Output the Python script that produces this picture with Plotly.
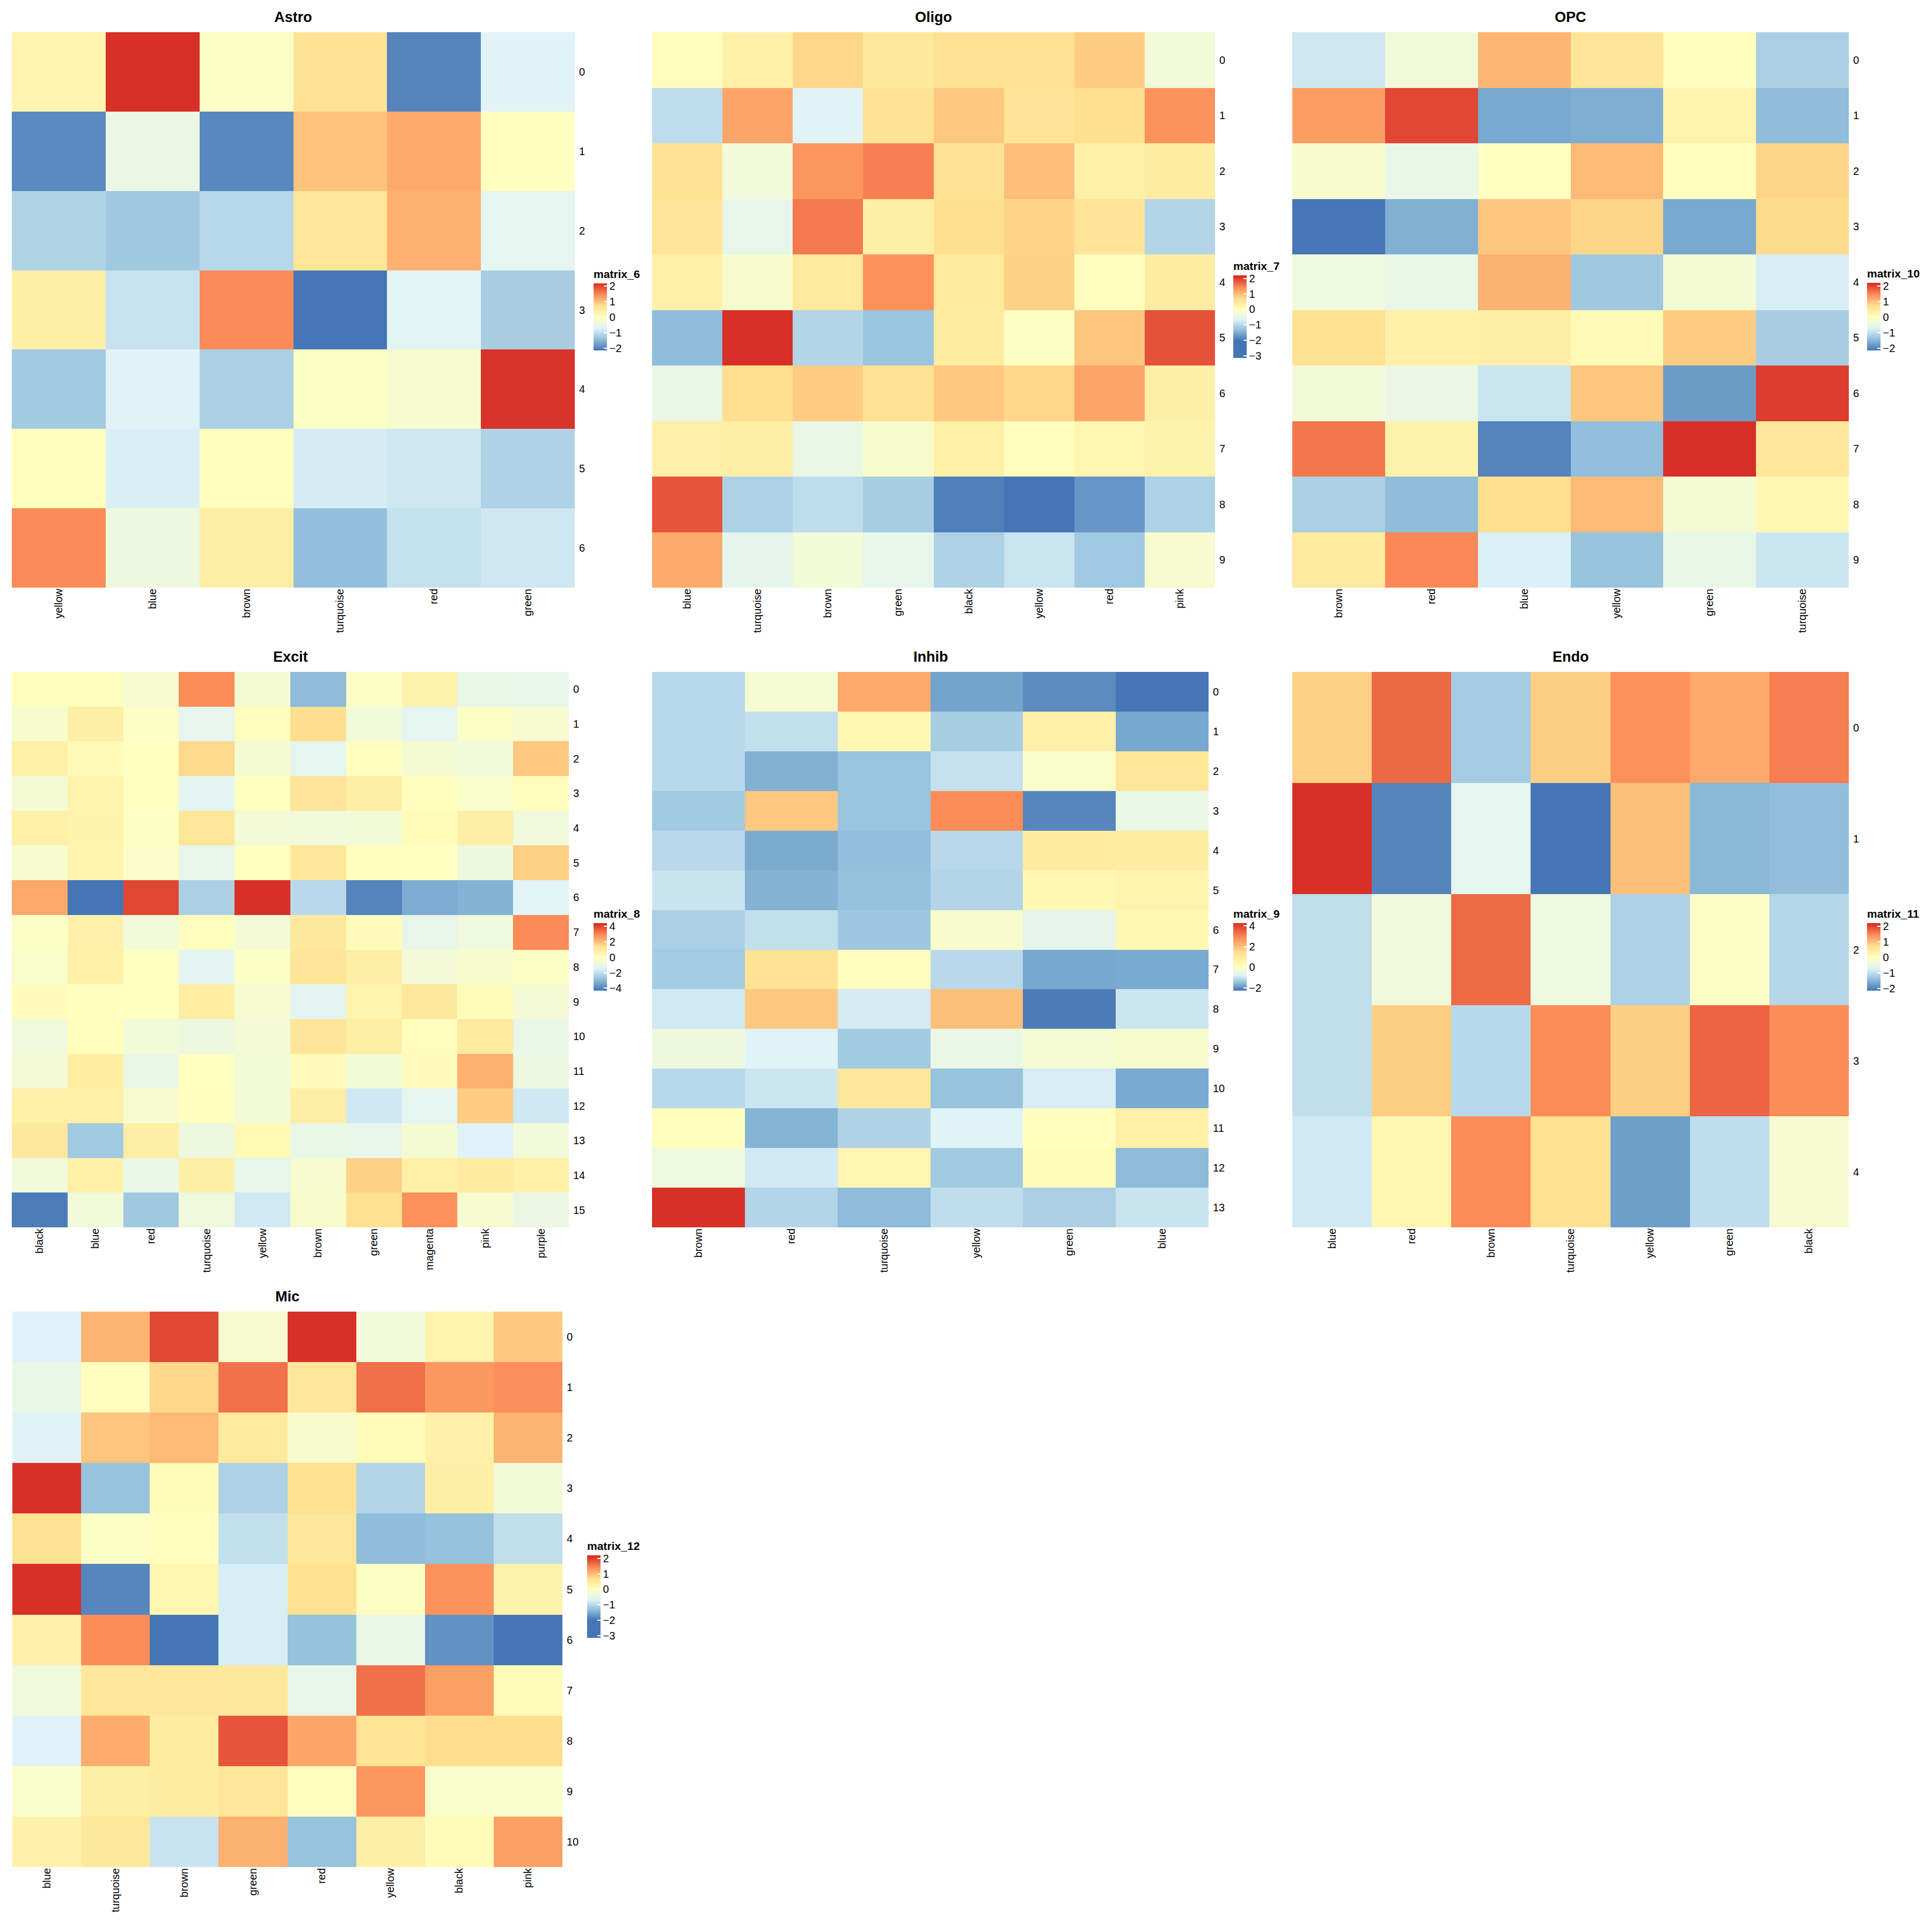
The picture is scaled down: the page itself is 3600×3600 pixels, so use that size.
import plotly.graph_objects as go

# row/column labels and values, one block per cell type
astro_genes = ['yellow', 'blue', 'brown', 'turquoise', 'red', 'green']
astro_values = [
    [0.25, 2.15, -0.08, 0.65, -2.0, -0.7],
    [-1.95, -0.45, -1.97, 0.97, 1.17, -0.03],
    [-1.15, -1.3, -1.1, 0.58, 1.13, -0.6],
    [0.37, -0.95, 1.45, -2.14, -0.66, -1.22],
    [-1.28, -0.7, -1.2, -0.08, -0.2, 2.12],
    [0.03, -0.78, 0.02, -0.82, -0.88, -1.17],
    [1.45, -0.42, 0.4, -1.42, -0.97, -0.88],
]

oligo_genes = ['blue', 'turquoise', 'brown', 'green', 'black', 'yellow', 'red', 'pink']
oligo_values = [
    [0.05, 0.35, 0.78, 0.52, 0.65, 0.66, 0.87, -0.3],
    [-0.95, 1.2, -0.65, 0.63, 0.9, 0.6, 0.7, 1.35],
    [0.66, -0.3, 1.33, 1.5, 0.66, 0.99, 0.35, 0.42],
    [0.58, -0.5, 1.55, 0.37, 0.7, 0.8, 0.6, -1.05],
    [0.35, -0.15, 0.5, 1.37, 0.5, 0.83, 0.03, 0.42],
    [-1.35, 2.1, -1.05, -1.25, 0.42, -0.05, 0.92, 1.85],
    [-0.45, 0.7, 0.87, 0.65, 0.9, 0.78, 1.2, 0.37],
    [0.33, 0.37, -0.45, -0.15, 0.35, 0.03, 0.22, 0.28],
    [1.82, -1.1, -0.95, -1.15, -1.9, -2.3, -1.7, -1.1],
    [1.15, -0.55, -0.27, -0.5, -1.1, -0.85, -1.2, -0.2],
]

opc_genes = ['brown', 'red', 'blue', 'yellow', 'green', 'turquoise']
opc_values = [
    [-0.88, -0.33, 1.09, 0.6, 0.03, -1.2],
    [1.29, 1.97, -1.65, -1.6, 0.27, -1.45],
    [-0.18, -0.52, -0.02, 1.05, 0.02, 0.8],
    [-2.14, -1.58, 0.94, 0.8, -1.65, 0.75],
    [-0.38, -0.52, 1.11, -1.3, -0.25, -0.8],
    [0.7, 0.35, 0.38, 0.12, 0.9, -1.22],
    [-0.3, -0.47, -0.92, 0.94, -1.78, 2.05],
    [1.6, 0.3, -2.0, -1.42, 2.15, 0.55],
    [-1.2, -1.45, 0.72, 1.05, -0.25, 0.18],
    [0.5, 1.47, -0.75, -1.38, -0.5, -0.9],
]

excit_genes = ['black', 'blue', 'red', 'turquoise', 'yellow', 'brown', 'green', 'magenta', 'pink', 'purple']
excit_values = [
    [0.05, 0.07, -0.4, 2.87, -0.45, -2.95, -0.1, 0.6, -1.0, -1.05],
    [-0.35, 0.75, -0.15, -1.15, 0.1, 1.45, -0.65, -1.2, -0.2, -0.4],
    [0.7, 0.25, -0.05, 1.55, -0.45, -1.2, 0.1, -0.45, -0.65, 1.85],
    [-0.5, 0.55, -0.05, -1.25, 0.0, 1.2, 0.8, 0.03, -0.3, 0.1],
    [0.7, 0.6, -0.1, 1.15, -0.55, -0.65, -0.6, 0.15, 0.75, -0.7],
    [-0.4, 0.55, -0.25, -1.05, -0.02, 1.15, 0.05, -0.05, -0.8, 1.72],
    [2.4, -4.3, 3.95, -2.4, 4.3, -2.15, -4.0, -3.25, -3.1, -1.35],
    [-0.15, 0.65, -0.65, 0.1, -0.55, 1.05, 0.12, -1.05, -0.75, 2.9],
    [-0.3, 0.7, -0.02, -1.3, -0.1, 1.2, 0.8, -0.55, -0.35, -0.1],
    [0.12, 0.05, -0.02, 0.85, -0.4, -1.25, 0.55, 1.05, 0.2, -0.55],
    [-0.7, 0.1, -0.65, -0.85, -0.55, 1.2, 0.8, 0.08, 0.95, -1.0],
    [-0.55, 0.85, -0.95, 0.0, -0.6, 0.12, -0.6, 0.12, 2.26, -0.85],
    [0.7, 0.7, -0.4, 0.03, -0.6, 0.8, -1.75, -1.2, 1.77, -1.75],
    [1.05, -2.55, 0.8, -0.8, 0.3, -1.0, -1.05, -0.45, -1.45, -0.65],
    [-0.65, 0.7, -1.0, 0.75, -1.05, -0.4, 1.7, 0.7, 0.95, 0.7],
    [-4.15, -0.65, -2.6, -0.7, -1.7, -0.35, 1.4, 2.8, -0.4, -0.9],
]

inhib_genes = ['brown', 'red', 'turquoise', 'yellow', 'green', 'blue']
inhib_values = [
    [-1.14, -0.25, 2.35, -1.8, -2.05, -2.27],
    [-1.14, -1.05, 0.35, -1.3, 0.7, -1.75],
    [-1.14, -1.67, -1.44, -1.02, -0.15, 1.15],
    [-1.36, 1.82, -1.44, 2.85, -2.1, -0.5],
    [-1.13, -1.72, -1.5, -1.13, 0.9, 0.85],
    [-0.98, -1.65, -1.48, -1.19, 0.3, 0.55],
    [-1.26, -1.05, -1.38, -0.17, -0.6, 0.3],
    [-1.34, 1.28, 0.1, -1.13, -1.75, -1.73],
    [-0.9, 1.82, -0.87, 1.97, -2.2, -0.95],
    [-0.42, -0.75, -1.35, -0.5, -0.25, -0.2],
    [-1.14, -0.95, 1.1, -1.46, -0.85, -1.73],
    [0.03, -1.63, -1.23, -0.75, 0.05, 0.7],
    [-0.4, -0.9, 0.45, -1.35, 0.15, -1.55],
    [4.27, -1.2, -1.55, -1.07, -1.26, -0.98],
]

endo_genes = ['blue', 'red', 'brown', 'turquoise', 'yellow', 'green', 'black']
endo_values = [
    [0.85, 1.72, -1.25, 0.87, 1.4, 1.19, 1.55],
    [2.15, -2.0, -0.6, -2.15, 0.99, -1.5, -1.43],
    [-1.0, -0.35, 1.7, -0.38, -1.18, -0.1, -1.12],
    [-1.0, 0.87, -1.08, 1.43, 0.87, 1.75, 1.43],
    [-0.85, 0.2, 1.43, 0.7, -1.75, -1.02, -0.2],
]

mic_genes = ['blue', 'turquoise', 'brown', 'green', 'red', 'yellow', 'black', 'pink']
mic_values = [
    [-0.68, 1.07, 1.92, -0.2, 2.1, -0.3, 0.27, 0.9],
    [-0.47, 0.03, 0.78, 1.6, 0.55, 1.62, 1.3, 1.38],
    [-0.65, 0.93, 1.02, 0.47, -0.15, 0.1, 0.33, 1.08],
    [2.1, -1.28, 0.1, -1.1, 0.68, -1.05, 0.37, -0.28],
    [0.65, -0.07, 0.02, -0.92, 0.55, -1.35, -1.3, -0.93],
    [2.1, -1.85, 0.2, -0.73, 0.68, -0.05, 1.35, 0.3],
    [0.32, 1.4, -2.4, -0.73, -1.3, -0.45, -1.75, -2.1],
    [-0.33, 0.55, 0.55, 0.53, -0.5, 1.62, 1.25, 0.1],
    [-0.68, 1.12, 0.42, 1.82, 1.2, 0.62, 0.72, 0.72],
    [-0.13, 0.37, 0.42, 0.57, 0.02, 1.32, -0.12, -0.12],
    [0.32, 0.52, -0.87, 1.1, -1.28, 0.37, 0.1, 1.23],
]

FONT = 'Liberation Sans'
SIZE = 3600
PAGE_MARGIN = 8  # the browser's default body margin pushes the figure in by this much
BAR_WIDTH = 25

# RdYlBu, low to high
ramp_colors = ['#4575b4', '#91bfdb', '#e0f3f8', '#ffffbf', '#fee090', '#fc8d59', '#d73027']
ramp_levels = [-1, -2 / 3, -1 / 3, 0, 1 / 3, 2 / 3, 1]

# title, genes, values, legend name, legend ticks, legend extent, colour limits
panels = [
    ('Astro', astro_genes, astro_values, 'matrix_6', [-2, -1, 0, 1, 2], (-2.15, 2.16), (-2.15, 2.15)),
    ('Oligo', oligo_genes, oligo_values, 'matrix_7', [-3, -2, -1, 0, 1, 2], (-3.14, 2.2), (-2.0, 2.1)),
    ('OPC', opc_genes, opc_values, 'matrix_10', [-2, -1, 0, 1, 2], (-2.15, 2.2), (-2.15, 2.15)),
    ('Excit', excit_genes, excit_values, 'matrix_8', [-4, -2, 0, 2, 4], (-4.32, 4.42), (-4.3, 4.3)),
    ('Inhib', inhib_genes, inhib_values, 'matrix_9', [-2, 0, 2, 4], (-2.27, 4.27), (-2.27, 4.27)),
    ('Endo', endo_genes, endo_values, 'matrix_11', [-2, -1, 0, 1, 2], (-2.15, 2.2), (-2.15, 2.15)),
    ('Mic', mic_genes, mic_values, 'matrix_12', [-3, -2, -1, 0, 1, 2], (-3.15, 2.2), (-2.0, 2.1)),
]

# left, right, top, bottom of each heatmap and left, top, bottom of its legend bar, in pixels
frames = [
    (22, 1071, 60, 1095, 1106, 528, 653),
    (1215, 2264, 60, 1095, 2298, 513, 667),
    (2408, 3445, 60, 1095, 3479, 527, 653),
    (22, 1060, 1252, 2287, 1106, 1720, 1846),
    (1215, 2252, 1252, 2287, 2298, 1720, 1846),
    (2408, 3445, 1252, 2287, 3479, 1720, 1846),
    (23, 1048, 2444, 3479, 1094, 2898, 3052),
]


def px_x(x):
    return (x - PAGE_MARGIN) / SIZE


def px_y(y):
    return 1 - (y - PAGE_MARGIN) / SIZE


def make_colorscale(extent, limits):
    low, high = extent
    stops = [[0, ramp_colors[0]]]
    for level, color in zip(ramp_levels, ramp_colors):
        value = level * abs(limits[0]) if level < 0 else level * limits[1]
        position = (value - low) / (high - low)
        if 0 < position < 1:
            stops.append([position, color])
    stops.append([1, ramp_colors[-1]])
    return stops


def add_panel(fig, index, panel, frame):
    title, genes, values, legend, ticks, extent, limits = panel
    left, right, top, bottom, bar_left, bar_top, bar_bottom = frame
    suffix = '' if index == 0 else str(index + 1)

    fig.add_trace(go.Heatmap(
        z=values,
        x=genes,
        y=list(range(len(values))),
        xaxis='x' + suffix,
        yaxis='y' + suffix,
        zmin=extent[0],
        zmax=extent[1],
        colorscale=make_colorscale(extent, limits),
        colorbar=dict(
            x=px_x(bar_left), xref='paper', xanchor='left', xpad=0,
            y=px_y(bar_top), yref='paper', yanchor='top', ypad=0,
            lenmode='pixels', len=bar_bottom - bar_top,
            thicknessmode='pixels', thickness=BAR_WIDTH,
            outlinewidth=0,
            tickmode='array', tickvals=ticks,
            ticks='inside', ticklen=6, tickwidth=2, tickcolor='white',
            tickfont=dict(family=FONT, size=20, color='black'),
        ),
    ))

    axis_font = dict(family=FONT, size=20, color='black')
    fig.update_layout({
        'xaxis' + suffix: dict(
            domain=[px_x(left), px_x(right)],
            anchor='y' + suffix,
            tickangle=-90,
            ticks='', ticklabelstandoff=-3,
            showgrid=False, zeroline=False, showline=False,
            tickfont=axis_font,
        ),
        'yaxis' + suffix: dict(
            domain=[px_y(bottom), px_y(top)],
            anchor='x' + suffix,
            side='right',
            autorange='reversed',
            dtick=1,
            ticks='outside', ticklen=3, tickcolor='rgba(0,0,0,0)',
            showgrid=False, zeroline=False, showline=False,
            tickfont=axis_font,
        ),
    })

    fig.add_annotation(
        text='<b>%s</b>' % title,
        x=px_x((left + right) / 2), y=px_y(top - 28),
        xref='paper', yref='paper',
        xanchor='center', yanchor='middle', showarrow=False,
        font=dict(family=FONT, size=27, color='black'),
    )
    fig.add_annotation(
        text='<b>%s</b>' % legend,
        x=px_x(bar_left), y=px_y(bar_top - 4),
        xref='paper', yref='paper',
        xanchor='left', yanchor='bottom', showarrow=False,
        xshift=-2, font=dict(family=FONT, size=21, color='black'),
    )

    # the colorbar only ticks its right side, the left dashes go in as shapes
    for tick in ticks:
        share = (extent[1] - tick) / (extent[1] - extent[0])
        y = bar_top + share * (bar_bottom - bar_top)
        fig.add_shape(
            type='line', xref='paper', yref='paper',
            x0=px_x(bar_left), x1=px_x(bar_left + 6),
            y0=px_y(y), y1=px_y(y),
            line=dict(color='white', width=2),
        )


def main():
    fig = go.Figure()
    for index, (panel, frame) in enumerate(zip(panels, frames)):
        add_panel(fig, index, panel, frame)

    fig.update_layout(
        width=SIZE,
        height=SIZE,
        margin=dict(l=0, r=0, t=0, b=0),
        paper_bgcolor='white',
        plot_bgcolor='white',
        font=dict(family=FONT),
    )
    fig.write_html("out.html")


if __name__ == "__main__":
    main()
